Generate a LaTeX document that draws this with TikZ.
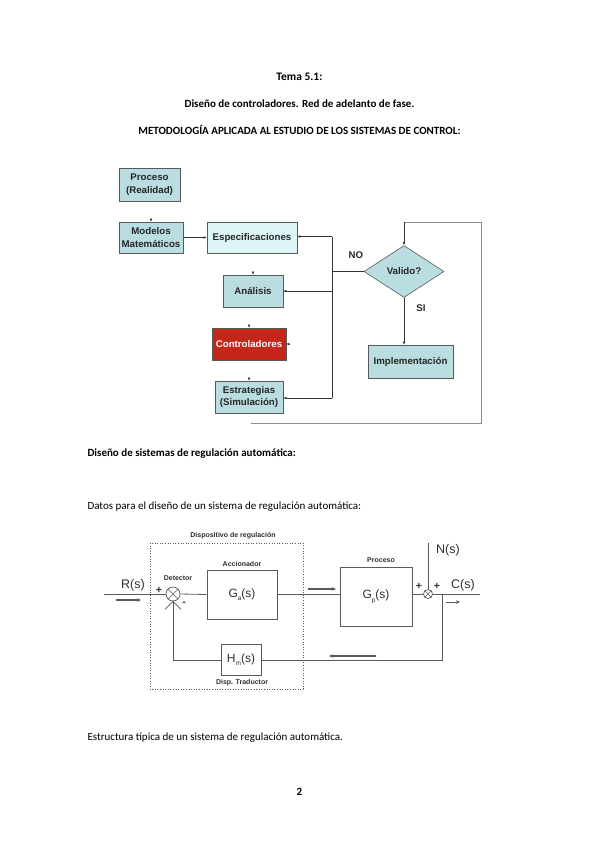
\documentclass[tikz,border=0pt]{standalone}
\usepackage{fontspec}
\setmainfont{Carlito}
\newfontfamily\arial{Liberation Sans}
\usetikzlibrary{shapes.geometric,arrows.meta}
\definecolor{boxblue}{HTML}{B9DDE1}
\definecolor{boxlight}{HTML}{DDF5F7}
\definecolor{boxred}{HTML}{C4261A}
\definecolor{bdline}{HTML}{5A5A5A}
\definecolor{bdtext}{HTML}{2E2E2E}
\begin{document}
\begin{tikzpicture}[x=1pt,y=-1pt,
  hdr/.style={font=\bfseries\fontsize{11}{13}\selectfont, anchor=center},
  body/.style={font=\fontsize{11}{13}\selectfont, anchor=west},
  fbox/.style={draw=black!65, line width=0.6pt, fill=boxblue, align=center, inner sep=0pt,
     font=\arial\bfseries\fontsize{9.7}{12.5}\selectfont, text=black!85},
  tip/.style={-{Latex[length=3pt,width=2.6pt]}, line width=0.5pt, draw=black!80},
  fline/.style={line width=0.5pt, draw=black!80},
  loopl/.style={line width=0.6pt, draw=black!45},
  bbox/.style={draw=bdline, line width=0.7pt, inner sep=0pt, text=bdtext,
     font=\arial\fontsize{12}{14}\selectfont},
  bl/.style={draw=bdline, line width=0.8pt},
  blab/.style={text=bdtext, font=\arial\fontsize{12.5}{14}\selectfont, inner sep=0pt},
  small/.style={text=bdtext, font=\arial\bfseries\fontsize{7}{8}\selectfont, inner sep=0pt},
  sgn/.style={text=bdtext, font=\arial\bfseries\fontsize{10.5}{12}\selectfont, inner sep=0pt},
  ind/.style={draw=bdline, line width=1.1pt, -{Stealth[length=4pt,width=3.5pt]}},
]
\useasboundingbox (0,0) rectangle (599,848);

% ---------- header ----------
\node[hdr, font=\bfseries\fontsize{11.5}{13}\selectfont] (t1) at (299.5,77) {Tema 5.1:};
\node[hdr] (t2) at (299.5,104) {Diseño de controladores. Red de adelanto de fase.};
\node[hdr] (t3) at (299.5,130) {METODOLOGÍA APLICADA AL ESTUDIO DE LOS SISTEMAS DE CONTROL:};

% ---------- flowchart ----------
\node[fbox, minimum width=61pt, minimum height=33pt] (pro) at (149.5,184.5) {Proceso\\(Realidad)};
\node[fbox, minimum width=64pt, minimum height=31pt] (mod) at (151,237.5) {Modelos\\Matemáticos};
\node[fbox, fill=boxlight, minimum width=90pt, minimum height=31pt] (esp) at (252,237.5) {Especificaciones};
\node[fbox, minimum width=60pt, minimum height=32pt] (ana) at (253,291) {Análisis};
\node[fbox, fill=boxred, text=white, minimum width=74pt, minimum height=32pt] (ctl) at (249,344) {Controladores};
\node[fbox, minimum width=68pt, minimum height=32pt] (est) at (249,397) {Estrategias\\(Simulación)};
\node[fbox, diamond, aspect=1.54, minimum width=80pt, minimum height=52pt] (dia) at (404,271.5) {Valido?};
\node[fbox, minimum width=85pt, minimum height=33pt] (imp) at (410.5,361.5) {Implementación};
\node[font=\arial\bfseries\fontsize{9.7}{11}\selectfont, text=black!85] (no) at (356,255) {NO};
\node[font=\arial\bfseries\fontsize{9.7}{11}\selectfont, text=black!85] (si) at (421,308) {SI};

% tiny arrow tips above boxes
\draw[tip] ([yshift=3pt]mod.north) -- (mod.north);
\draw[tip] ([yshift=3pt]ana.north) -- (ana.north);
\draw[tip] ([yshift=3pt]ctl.north) -- (ctl.north);
\draw[tip] ([yshift=3pt]est.north) -- (est.north);
\draw[tip] ([xshift=3pt]ctl.east) -- (ctl.east);

\draw[tip] (mod.east) -- (esp.west);
\coordinate (jt) at (332,236.5);
\coordinate (jb) at (332,398);
\draw[fline] (dia.west) -- (dia.west -| jt);
\draw[fline] (jt) -- (jb);
\draw[tip] (jt) -- (esp.east |- jt);
\draw[tip] (ana.east -| jt) -- (ana.east);
\draw[tip] (jb) -- (est.east |- jb);
\draw[tip] (dia.south) -- (imp.north -| dia.south);

% outer loop
\coordinate (lt) at (404,222);
\coordinate (lr) at (481,222);
\coordinate (lq) at (481,423);
\coordinate (lb) at (251,423);
\draw[loopl] (lb) -- (lq) -- (lr) -- (lt);
\draw[tip] (lt) -- (dia.north);

% ---------- texts ----------
\node[body, font=\bfseries\fontsize{11}{13}\selectfont] (s1) at (84,454) {Diseño de sistemas de regulación automática:};
\node[body] (s2) at (84,507) {Datos para el diseño de un sistema de regulación automática:};
\node[body] (s3) at (84,738) {Estructura típica de un sistema de regulación automática.};
\node[hdr] (pg) at (299.5,792) {2};

% ---------- block diagram ----------
\draw[draw=bdline, line width=0.6pt, dotted] (150,543) rectangle (303,689);
\node[small] (dlab) at (233,536) {Dispositivo de regulación};

\node[bbox, circle, minimum size=14pt] (det) at (173,594) {};
\draw[bl, line width=0.6pt] (det.north east) -- (det.south west) (det.north west) -- (det.south east);
\node[bbox, minimum width=70pt, minimum height=49pt] (ga) at (242,594.5) {G\raisebox{-3.5pt}{\fontsize{6.5}{7}\selectfont a}(s)};
\node[bbox, minimum width=72pt, minimum height=59pt] (gp) at (376,596.5) {G\raisebox{-4pt}{\fontsize{6.5}{7}\selectfont p}(s)};
\node[bbox, minimum width=40pt, minimum height=31pt] (hm) at (241,660) {H\raisebox{-3pt}{\fontsize{6.5}{7}\selectfont m}(s)};
\node[bbox, circle, minimum size=9pt] (sum) at (428,594) {};
\draw[bl, line width=0.5pt] (sum.north east) -- (sum.south west) (sum.north west) -- (sum.south east);

\node[small] (acc) at (242,564) {Accionador};
\node[small] (detl) at (178,578) {Detector};
\node[small] (prl) at (381,560) {Proceso};
\node[small] (dtl) at (242,683) {Disp. Traductor};

\coordinate (rin) at (104,594);
\coordinate (nin) at (428,543);
\coordinate (cout) at (480,594);
\coordinate (fb1) at (442,594);
\coordinate (fb2) at (442,660);
\coordinate (fb3) at (173,660);

\draw[bl] (rin) -- (det.west);
\draw[bl] (det.east) -- (ga.west);
\draw[bl] (ga.east) -- (gp.west |- ga.east);
\draw[bl] (gp.east |- sum) -- (sum.west);
\draw[bl] (sum.east) -- (cout);
\draw[bl] (nin) -- (sum.north);
\draw[bl] (fb1) -- (fb2) -- (hm.east);
\draw[bl] (hm.west) -- (fb3) -- (det.south);
\draw[bl, line width=0.6pt] (det.south) -- ++(-8,8);
\draw[bl, line width=0.6pt] (det.south) -- ++(8,8);

\node[blab] (rl) at (133,585) {R(s)};
\node[blab] (cl) at (463,585) {C(s)};
\node[blab] (nl) at (448,550) {N(s)};
\node[sgn] (p1) at (159,590) {+};
\node[sgn] (m1) at (184,604) {-};
\node[sgn] (p2) at (419,586) {+};
\node[sgn] (p3) at (437,586) {+};

\coordinate (ar1) at (116,600); \coordinate (ar2) at (141,600);
\draw[ind] (ar1) -- (ar2);
\coordinate (ag1) at (308,589); \coordinate (ag2) at (336,589);
\draw[ind] (ag1) -- (ag2);
\coordinate (ac1) at (446,602); \coordinate (ac2) at (460,602);
\draw[ind, line width=0.8pt] (ac1) -- (ac2);
\coordinate (af1) at (376,656); \coordinate (af2) at (329,656);
\draw[ind] (af1) -- (af2);
\end{tikzpicture}
\end{document}
